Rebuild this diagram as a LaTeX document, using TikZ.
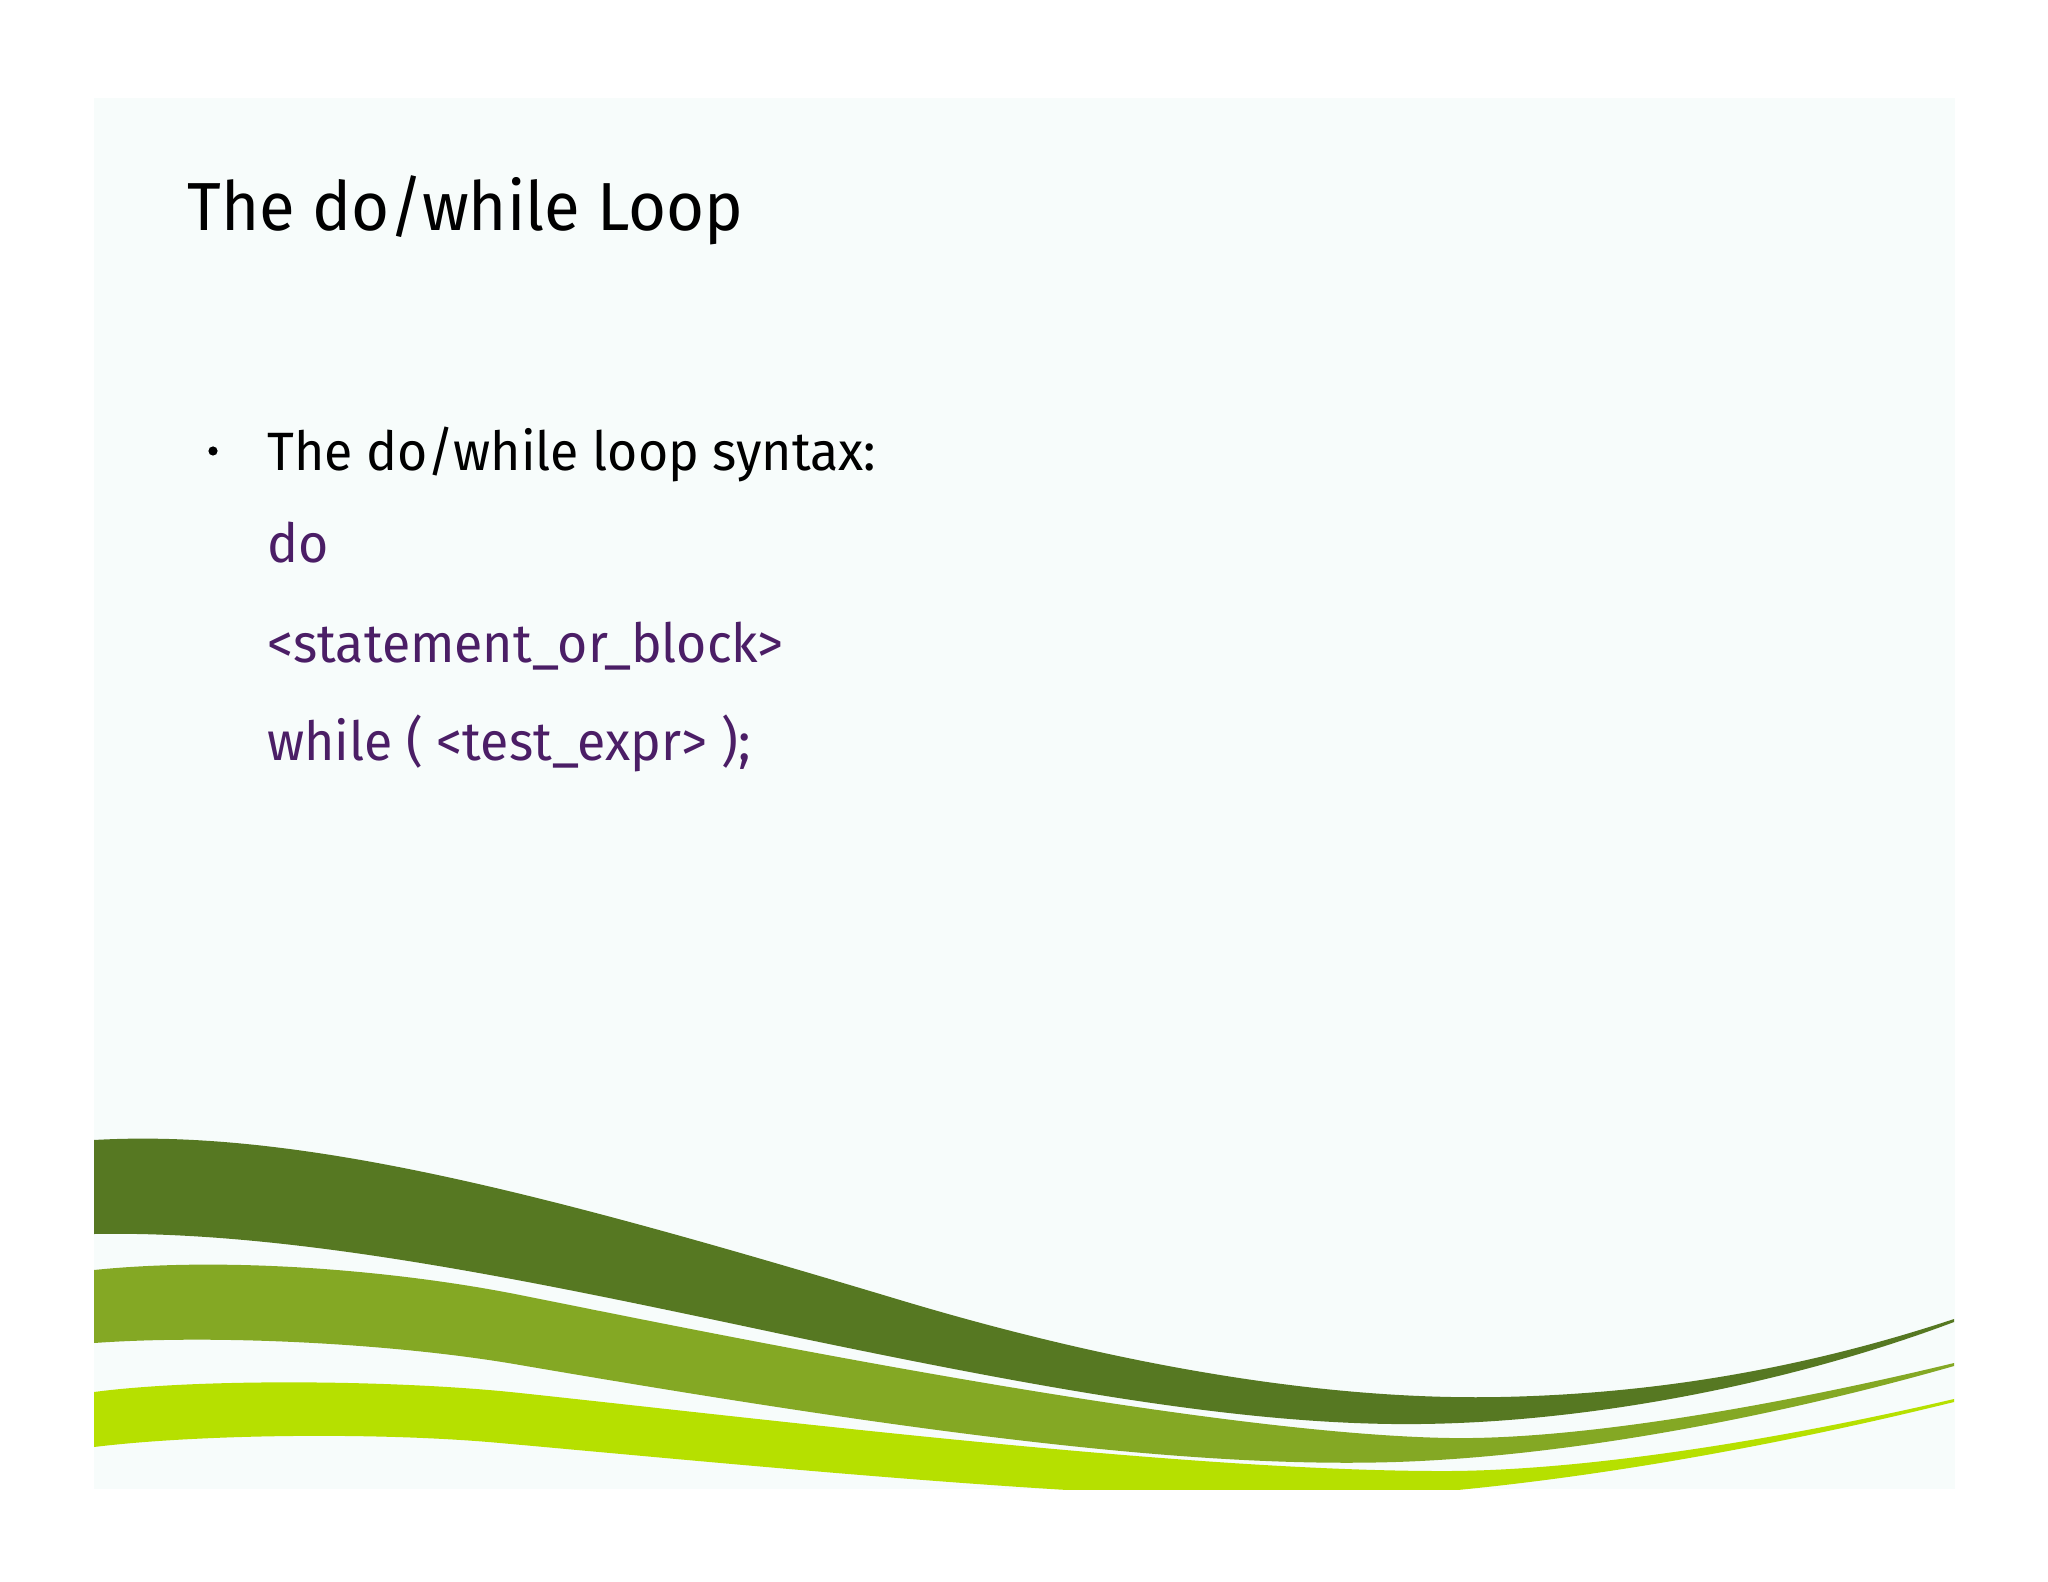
\documentclass[tikz,border=0pt]{standalone}
\usepackage{fontspec}
\setmainfont{Fira Sans}[FakeStretch=0.96]
\definecolor{slidebg}{HTML}{F7FCFB}
\definecolor{darkg}{HTML}{567822}
\definecolor{midg}{HTML}{84A824}
\definecolor{lightg}{HTML}{B6E000}
\definecolor{codepurple}{HTML}{4B1E66}
\begin{document}
\begin{tikzpicture}[x=0.5pt,y=-0.5pt,
  titletext/.style={anchor=base west,inner sep=0pt,font=\fontsize{34}{40}\selectfont,text=black},
  bodytext/.style={anchor=base west,inner sep=0pt,font=\fontsize{27}{32}\selectfont,text=black},
  codetext/.style={bodytext,text=codepurple},
  bulletdot/.style={circle,fill=black,inner sep=0pt,minimum size=4.6pt}]
\useasboundingbox (0,0) rectangle (2048,1582);
\fill[white] (0,0) rectangle (2048,1582);
\fill[slidebg] (94,98) rectangle (1955,1489);
\begin{scope}
\clip (94,98) rectangle (1955,1489);
% dark band
\fill[darkg] (94,1140) .. controls (300,1128) and (550,1195) .. (900,1300)
  .. controls (1150,1375) and (1350,1400) .. (1500,1397)
  .. controls (1650,1394) and (1800,1370) .. (1954,1319)
  -- (1954,1322)
  .. controls (1800,1380) and (1600,1422) .. (1420,1424)
  .. controls (1250,1426) and (1050,1390) .. (800,1338)
  .. controls (550,1285) and (300,1230) .. (94,1234) -- cycle;
% middle band
\fill[midg] (94,1270) .. controls (230,1256) and (400,1271) .. (520,1295)
  .. controls (700,1331) and (1200,1434) .. (1450,1438)
  .. controls (1580,1440) and (1780,1405) .. (1954,1363)
  -- (1954,1366)
  .. controls (1800,1410) and (1600,1452) .. (1420,1461)
  .. controls (1200,1472) and (900,1430) .. (520,1365)
  .. controls (400,1344) and (220,1334) .. (94,1343) -- cycle;
% light band
\fill[lightg] (94,1392) .. controls (200,1378) and (400,1380) .. (520,1393)
  .. controls (800,1423) and (1200,1472) .. (1450,1471)
  .. controls (1600,1470) and (1800,1435) .. (1954,1399)
  -- (1954,1402)
  .. controls (1800,1440) and (1600,1480) .. (1400,1495)
  .. controls (1200,1510) and (800,1470) .. (500,1443)
  .. controls (380,1432) and (200,1434) .. (94,1447) -- cycle;
\end{scope}
\node[titletext] (title) at (187,231) {The do/while Loop};
\node[bulletdot] (dot) at (213,451) {};
\node[bodytext] (b1) at (267,471) {The do/while loop syntax:};
\node[codetext] (c1) at (267,563) {do};
\node[codetext] (c2) at (267,662) {<statement\_or\_block>};
\node[codetext] (c3) at (267,760) {while ( <test\_expr> );};
\end{tikzpicture}
\end{document}
